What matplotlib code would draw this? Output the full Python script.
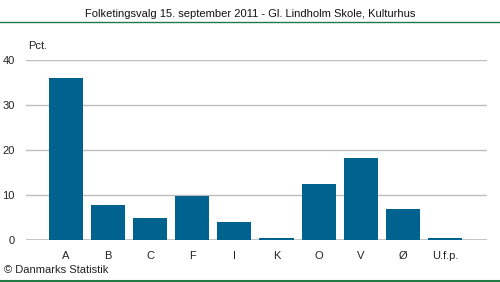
import matplotlib
matplotlib.use("Agg")
import matplotlib.pyplot as plt
from matplotlib.lines import Line2D

categories = ["A", "B", "C", "F", "I", "K", "O", "V", "Ø", "U.f.p."]
values = [36.0, 7.8, 4.9, 9.8, 4.0, 0.5, 12.4, 18.2, 6.9, 0.4]
yticks = [0, 10, 20, 30, 40]

plt.rcParams['font.family'] = ['Liberation Sans', 'DejaVu Sans']

W, H = 500, 282
fig = plt.figure(figsize=(W/100, H/100), dpi=100)
ax = fig.add_axes([26/W, 1-240/H, (487-26)/W, 180/H])

x = list(range(len(categories)))
ax.bar(x, values, width=0.81, color="#00628f", zorder=3)
ax.set_xlim(-0.95, 10.0)
ax.set_ylim(0, 40)
ax.set_yticks(yticks)
ax.set_xticks(x)
ax.set_xticklabels(categories)
ax.grid(axis='y', color="#bdbdbd", linewidth=1, zorder=0)
for s in ax.spines.values():
    s.set_visible(False)
ax.axhline(0, color="#bdbdbd", linewidth=1.2, zorder=2)
ax.tick_params(axis='both', length=0, labelsize=8, colors="#222222")
ax.tick_params(axis='y', pad=8)
ax.tick_params(axis='x', pad=8)
ax.text(28/W, 1-46/H, "Pct.", transform=fig.transFigure, fontsize=8, ha='left', va='center', color="#222222")

fig.text(0.5, 1-14/H, "Folketingsvalg 15. september 2011 - Gl. Lindholm Skole, Kulturhus",
         ha='center', va='center', fontsize=8, color="#111111")
fig.add_artist(Line2D([0, 1], [1-22/H, 1-22/H], transform=fig.transFigure, color="#1f7a44", linewidth=1))
fig.add_artist(Line2D([0, 1], [1-281/H, 1-281/H], transform=fig.transFigure, color="#1f7a44", linewidth=1.5))
fig.text(4/W, 1-270/H, "© Danmarks Statistik", ha='left', va='center', fontsize=8, color="#222222")

fig.savefig("out.png", dpi=100)
